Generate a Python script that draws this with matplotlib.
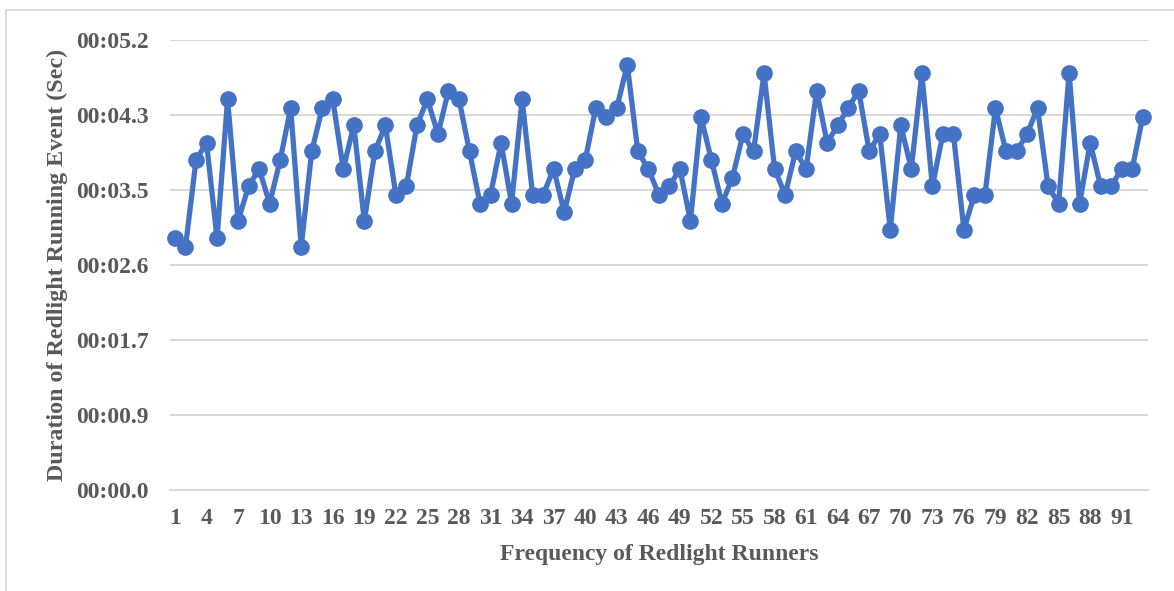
import matplotlib
matplotlib.use("Agg")
import matplotlib.pyplot as plt
from matplotlib.lines import Line2D

# duration of each redlight running event, seconds
durations = [
    2.9, 2.8, 3.8, 4.0, 2.9, 4.5, 3.1, 3.5, 3.7, 3.3, 3.8, 4.4, 2.8, 3.9, 4.4, 4.5,
    3.7, 4.2, 3.1, 3.9, 4.2, 3.4, 3.5, 4.2,
    4.5, 4.1, 4.6, 4.5, 3.9, 3.3, 3.4, 4.0, 3.3, 4.5, 3.4, 3.4, 3.7, 3.2, 3.7, 3.8,
    4.4, 4.3, 4.4, 4.9, 3.9, 3.7, 3.4,
    3.5, 3.7, 3.1, 4.3, 3.8, 3.3, 3.6, 4.1, 3.9, 4.8, 3.7, 3.4, 3.9, 3.7, 4.6, 4.0,
    4.2, 4.4, 4.6, 3.9, 4.1, 3.0,
    4.2, 3.7, 4.8, 3.5, 4.1, 4.1, 3.0, 3.4, 3.4, 4.4, 3.9, 3.9, 4.1, 4.4, 3.5, 3.3,
    4.8, 3.3, 4.0, 3.5, 3.5, 3.7, 3.7, 4.3,
]
runners = list(range(1, len(durations) + 1))

# excel time axis: major unit 0.00001 day = 0.864 s
y_ticks = [0.864 * i for i in range(7)]
y_labels = ["00:00.0", "00:00.9", "00:01.7", "00:02.6", "00:03.5", "00:04.3", "00:05.2"]
x_ticks = list(range(1, 92, 3))

blue = "#4472C4"
grey_txt = "#595959"
plt.rcParams["font.family"] = ["Liberation Serif", "DejaVu Serif"]

fig = plt.figure(figsize=(11.74, 5.91), dpi=100)
ax = fig.add_axes([169.7 / 1174, 1 - 490 / 591, (1148 - 169.7) / 1174, 450 / 591])

ax.plot(runners, durations, color=blue, lw=3.8, marker="o", ms=11,
        markerfacecolor=blue, markeredgecolor=blue, zorder=3, clip_on=False)

ax.set_xlim(0.5, len(durations) + 0.5)
ax.set_ylim(0, 0.864 * 6)
ax.set_yticks(y_ticks)
ax.set_yticklabels(y_labels)
ax.set_xticks(x_ticks)
ax.grid(axis="y", color="#D9D9D9", lw=1.5)
ax.set_axisbelow(True)
for s in ["top", "right", "left"]:
    ax.spines[s].set_visible(False)
ax.spines["bottom"].set_color("#D9D9D9")
ax.spines["bottom"].set_linewidth(1.5)
ax.tick_params(axis="both", length=0, labelsize=17, colors=grey_txt)
ax.tick_params(axis="y", pad=15)
ax.tick_params(axis="x", pad=13)
for lab in ax.get_xticklabels() + ax.get_yticklabels():
    lab.set_fontweight("bold")

ax.set_xlabel("Frequency of Redlight Runners", fontsize=17, fontweight="bold",
              color=grey_txt, labelpad=11)
ax.set_ylabel("Duration of Redlight Running Event (Sec)", fontsize=17.3,
              fontweight="bold", color=grey_txt, labelpad=6)

# chart area border (only top and left show in the crop)
fig.add_artist(Line2D([6 / 1174, 1], [1 - 10 / 591, 1 - 10 / 591], color="#D9D9D9", lw=1.2))
fig.add_artist(Line2D([6 / 1174, 6 / 1174], [0, 1 - 10 / 591], color="#D9D9D9", lw=1.2))

fig.savefig("out.png", dpi=100)
